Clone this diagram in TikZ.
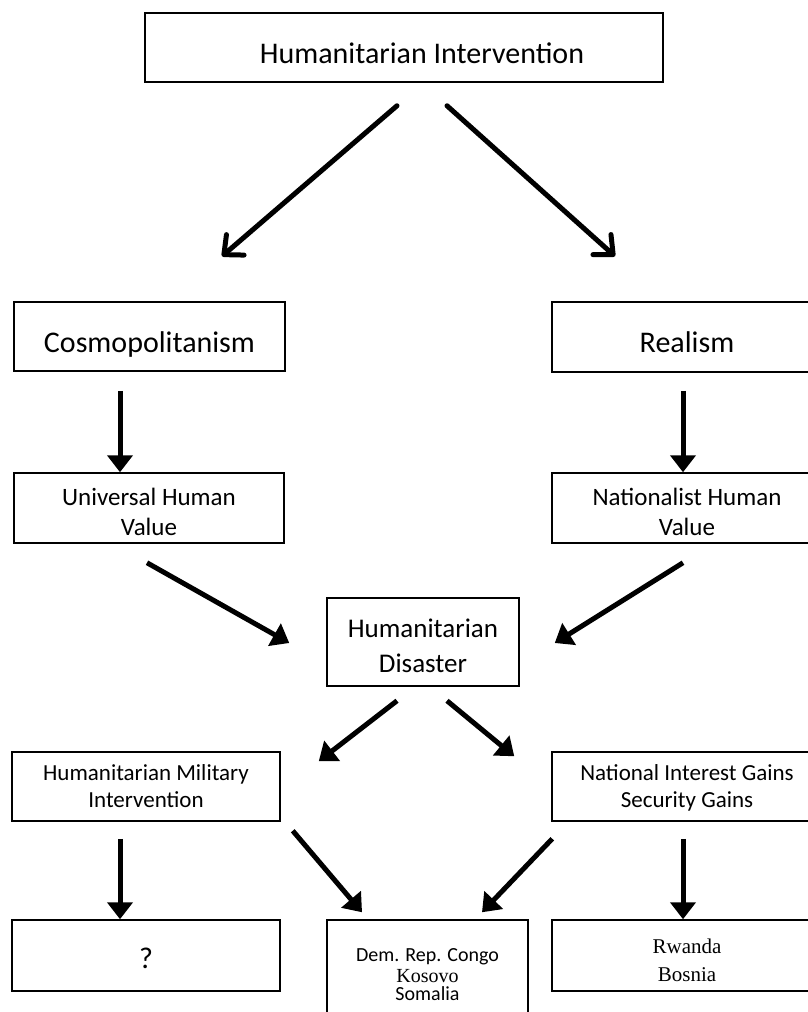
\documentclass[tikz,border=0pt]{standalone}
\usepackage{fontspec}
\setmainfont{Carlito}
\newfontfamily\caseserif{Liberation Serif}
\usetikzlibrary{arrows.meta, calc}

\begin{document}
\begin{tikzpicture}[x=1pt, y=-1pt,
    box/.style={draw, line width=1.5pt, inner sep=0pt, align=center, text depth=0pt},
    lblbig/.style={font=\fontsize{30}{36}\selectfont, text height=31pt},
    lblmid/.style={font=\fontsize{25}{30}\selectfont, text height=54pt},
    lblsmall/.style={font=\fontsize{23}{27}\selectfont, text height=41pt},
    lblcase/.style={font=\fontsize{20}{20}\selectfont, text height=50pt},
    arr/.style={line width=5pt, -{Triangle[width=25pt, length=17pt]}},
    vee/.style={line width=5pt, line cap=round, -{Straight Barb[width=27pt, length=15pt, round]}}]
  \clip (0,0) rectangle (808,1012);

  % ---- top level ----
  \node[box, lblbig, minimum width=518pt, minimum height=69pt] (hi) at (404,47.5) {\hspace*{36pt}Humanitarian Intervention};

  % ---- two schools ----
  \node[box, lblbig, minimum width=271pt, minimum height=69pt] (cosmo) at (149.5,336.5) {Cosmopolitanism};
  \node[box, lblbig, minimum width=270pt, minimum height=70pt] (real) at (687,337) {Realism};
  \node[box, lblmid, minimum width=270pt, minimum height=70pt] (univ) at (149,508) {Universal Human\\Value};
  \node[box, lblmid, minimum width=270pt, minimum height=70pt] (natval) at (687,508) {Nationalist Human\\Value};

  % ---- disaster ----
  \node[box, font=\fontsize{27}{35}\selectfont, text height=60pt,
    minimum width=192pt, minimum height=88pt] (dis) at (423,642) {Humanitarian\\Disaster};

  % ---- responses ----
  \node[box, lblsmall, minimum width=268pt, minimum height=69pt] (mil) at (146,786.5) {Humanitarian Military\\Intervention};
  \node[box, lblsmall, minimum width=270pt, minimum height=69pt] (gain) at (687,786.5) {National Interest Gains\\Security Gains};

  % ---- cases ----
  \node[box, lblbig, text height=25pt, minimum width=268pt, minimum height=71pt] (unk) at (146,955.5) {?};
  \node[box, lblcase, minimum width=201pt, minimum height=110pt] (congo) at (427.5,975)
    {Dem. Rep. Congo\\[1pt]{\caseserif Kosovo}\\[-2pt]Somalia};
  \node[box, font=\caseserif\fontsize{21}{28}\selectfont, text height=51pt,
    minimum width=270pt, minimum height=71pt] (rb) at (687,955.5) {Rwanda\\Bosnia};

  % ---- arrows ----
  \draw[vee] ($(hi.south)+(-7,23)$) -- ($(cosmo.north)+(72.5,-45)$);
  \draw[vee] ($(hi.south)+(43,23)$) -- ($(real.north)+(-72,-45)$);

  \draw[arr] ($(cosmo.south)+(-29.5,19)$) -- ($(univ.north)+(-29,0)$);
  \draw[arr] ($(real.south)+(-4,18)$) -- ($(natval.north)+(-4,0)$);

  \draw[arr] ($(univ.south)+(-2,19)$) -- ($(dis.west)+(-37,1)$);
  \draw[arr] ($(natval.south)+(-4,19)$) -- ($(dis.east)+(35,1)$);

  \draw[arr] ($(dis.south)+(-26,14)$) -- ($(mil.north east)+(38,10)$);
  \draw[arr] ($(dis.south)+(24,14)$) -- ($(gain.north west)+(-37,5)$);

  \draw[arr] ($(mil.south)+(-26,17)$) -- ($(unk.north)+(-26,0)$);
  \draw[arr] ($(mil.south east)+(12,9)$) -- ($(congo.north)+(-65.5,-7)$);
  \draw[arr] ($(gain.south west)+(1,17)$) -- ($(congo.north)+(54.5,-7)$);
  \draw[arr] ($(gain.south)+(-4,17)$) -- ($(rb.north)+(-4,0)$);
\end{tikzpicture}
\end{document}
